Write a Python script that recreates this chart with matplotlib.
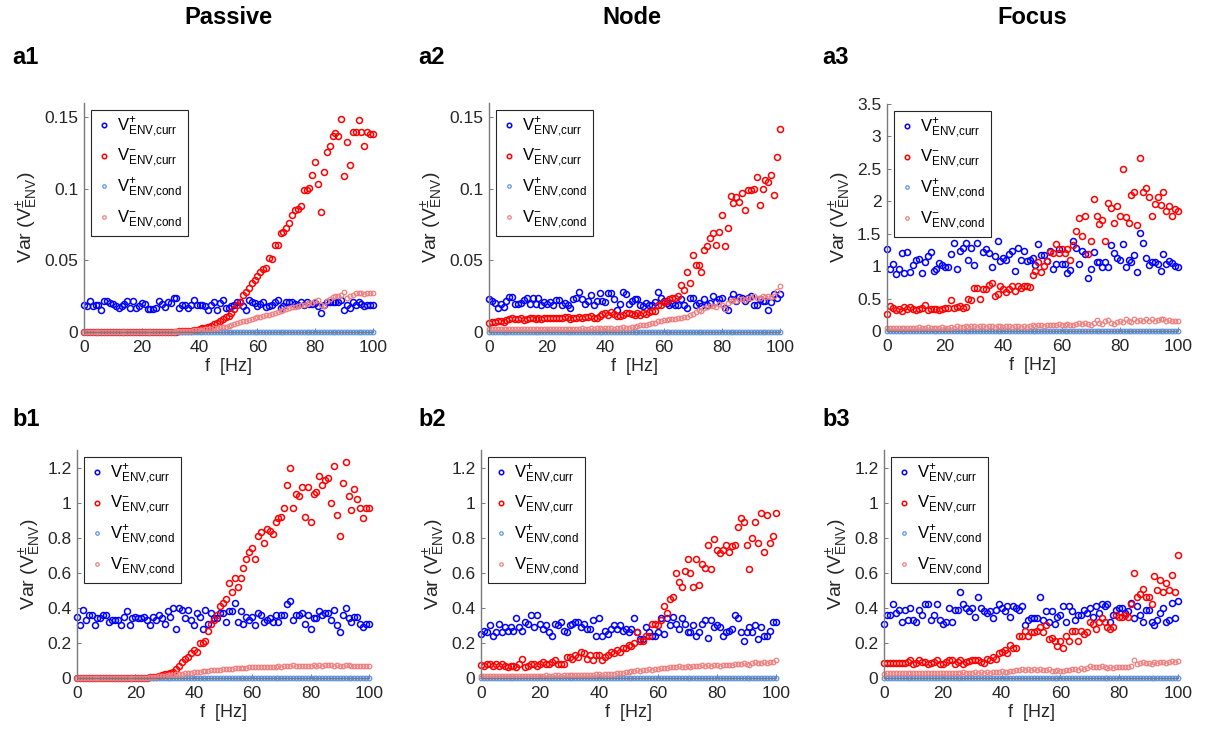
import matplotlib
matplotlib.use("Agg")
import matplotlib.pyplot as plt

plt.rcParams['font.family'] = ['Liberation Sans', 'DejaVu Sans']
plt.rcParams['mathtext.fontset'] = 'custom'
plt.rcParams['mathtext.rm'] = 'Liberation Sans'
plt.rcParams['mathtext.it'] = 'Liberation Sans:italic'
plt.rcParams['mathtext.bf'] = 'Liberation Sans:bold'

f_hz = list(range(101))

col_titles = ['Passive', 'Node', 'Focus']
panel_names = ['a1', 'a2', 'a3', 'b1', 'b2', 'b3']
legend_labels = [r'$\mathrm{V^{+}_{ENV{,}curr}}$', r'$\mathrm{V^{-}_{ENV{,}curr}}$',
                 r'$\mathrm{V^{+}_{ENV{,}cond}}$', r'$\mathrm{V^{-}_{ENV{,}cond}}$']
y_limits = [0.16, 0.16, 3.5, 1.3, 1.3, 1.3]
y_ticks = [[0, 0.05, 0.1, 0.15], [0, 0.05, 0.1, 0.15],
           [0, 0.5, 1, 1.5, 2, 2.5, 3, 3.5],
           [0, 0.2, 0.4, 0.6, 0.8, 1, 1.2], [0, 0.2, 0.4, 0.6, 0.8, 1, 1.2],
           [0, 0.2, 0.4, 0.6, 0.8, 1, 1.2]]
y_ticklabels = [['0', '0.05', '0.1', '0.15'], ['0', '0.05', '0.1', '0.15'],
                ['0', '0.5', '1', '1.5', '2', '2.5', '3', '3.5'],
                ['0', '0.2', '0.4', '0.6', '0.8', '1', '1.2'],
                ['0', '0.2', '0.4', '0.6', '0.8', '1', '1.2'],
                ['0', '0.2', '0.4', '0.6', '0.8', '1', '1.2']]

# conductance-based V+ stays at zero everywhere
cond_plus = [0, 0, 0, 0, 0, 0, 0, 0, 0, 0, 0, 0, 0, 0, 0, 0, 0, 0, 0, 0,
             0, 0, 0, 0, 0, 0, 0, 0, 0, 0, 0, 0, 0, 0, 0, 0, 0, 0, 0, 0,
             0, 0, 0, 0, 0, 0, 0, 0, 0, 0, 0, 0, 0, 0, 0, 0, 0, 0, 0, 0,
             0, 0, 0, 0, 0, 0, 0, 0, 0, 0, 0, 0, 0, 0, 0, 0, 0, 0, 0, 0,
             0, 0, 0, 0, 0, 0, 0, 0, 0, 0, 0, 0, 0, 0, 0, 0, 0, 0, 0, 0, 0]

# ---- a1 Passive ----
a1_curr_p = [.0186, .0180, .0220, .0180, .0190, .0190, .0156, .0214, .0217, .0200,
             .0198, .0180, .0165, .0184, .0193, .0214, .0168, .0220, .0165, .0180,
             .0200, .0198, .0163, .0160, .0160, .0165, .0219, .0198, .0175, .0207,
             .0203, .0235, .0235, .0168, .0189, .0189, .0170, .0189, .0221, .0189,
             .0189, .0189, .0182, .0156, .0189, .0207, .0156, .0203, .0221, .0165,
             .0170, .0180, .0189, .0207, .0212, .0184, .0151, .0226, .0212, .0203,
             .0184, .0198, .0212, .0175, .0180, .0189, .0212, .0226, .0170, .0180,
             .0212, .0207, .0207, .0198, .0189, .0207, .0189, .0212, .0193, .0198,
             .0203, .0180, .0133, .0189, .0207, .0207, .0207, .0207, .0207, .0226,
             .0156, .0189, .0165, .0212, .0189, .0212, .0198, .0180, .0189, .0189, .0189]
a1_curr_m = [0, 0, 0, 0, 0, 0, 0, 0, 0, 0,
             0, 0, 0, 0, 0, 0, 0, 0, 0, 0,
             0, 0, 0, 0, 0, 0, 0, 0, .0001, .0001,
             .0002, .0002, .0003, .0004, .0005, .0006, .0008, .0010, .0012, .0015,
             .0020, .0025, .0030, .0037, .0045, .0055, .0065, .0075, .0090, .0105,
             .0115, .0130, .0160, .0190, .0210, .0260, .0280, .0310, .0340, .0365,
             .0390, .0420, .0440, .0450, .0520, .0510, .0610, .0610, .0690, .0700,
             .0730, .0760, .0820, .0850, .0860, .0880, .0990, .0995, .1006, .1100,
             .1190, .1034, .0836, .1120, .1256, .1300, .1370, .1390, .1370, .1490,
             .1090, .1330, .1170, .1400, .1400, .1480, .1400, .1300, .1400, .1380, .1380]
a1_cond_m = [0, 0, 0, 0, 0, 0, 0, 0, 0, 0,
             0, 0, 0, 0, 0, 0, 0, 0, 0, 0,
             0, 0, 0, 0, 0, 0, 0, 0, 0, 0,
             .0002, .0003, .0004, .0005, .0006, .0007, .0008, .0010, .0011, .0013,
             .0015, .0017, .0019, .0021, .0024, .0026, .0029, .0032, .0035, .0038,
             .0042, .0048, .0055, .0062, .0068, .0074, .0080, .0086, .0092, .0098,
             .0104, .0108, .0112, .0116, .0122, .0128, .0133, .0138, .0145, .0152,
             .0160, .0166, .0172, .0178, .0185, .0190, .0192, .0196, .0200, .0206,
             .0214, .0226, .0190, .0180, .0215, .0232, .0245, .0255, .0250, .0262,
             .0280, .0240, .0255, .0262, .0270, .0275, .0273, .0265, .0270, .0275, .0270]

# ---- a2 Node ----
a2_curr_p = [.0228, .0216, .0204, .0169, .0197, .0174, .0216, .0244, .0244, .0197,
             .0197, .0204, .0221, .0235, .0197, .0235, .0197, .0235, .0192, .0211,
             .0197, .0211, .0192, .0221, .0223, .0192, .0204, .0192, .0169, .0228,
             .0239, .0279, .0228, .0197, .0216, .0256, .0188, .0216, .0270, .0216,
             .0211, .0275, .0275, .0228, .0157, .0197, .0282, .0268, .0197, .0216,
             .0232, .0232, .0192, .0181, .0204, .0188, .0188, .0211, .0279, .0239,
             .0216, .0204, .0192, .0204, .0192, .0188, .0228, .0192, .0169, .0235,
             .0235, .0188, .0204, .0181, .0232, .0192, .0204, .0251, .0209, .0228,
             .0235, .0169, .0157, .0228, .0263, .0216, .0244, .0239, .0216, .0235,
             .0251, .0188, .0192, .0228, .0216, .0216, .0157, .0211, .0263, .0240, .0263]
a2_curr_m = [.0063, .0070, .0068, .0080, .0075, .0072, .0085, .0090, .0095, .0092,
             .0092, .0095, .0085, .0090, .0100, .0098, .0093, .0095, .0090, .0098,
             .0096, .0100, .0098, .0095, .0100, .0098, .0108, .0102, .0092, .0100,
             .0098, .0105, .0100, .0108, .0102, .0110, .0098, .0100, .0115, .0125,
             .0130, .0122, .0140, .0125, .0115, .0115, .0120, .0132, .0130, .0125,
             .0118, .0130, .0120, .0135, .0128, .0140, .0145, .0150, .0190, .0192,
             .0210, .0220, .0228, .0235, .0240, .0252, .0330, .0295, .0420, .0340,
             .0540, .0465, .0470, .0420, .0570, .0600, .0660, .0690, .0610, .0700,
             .0820, .0600, .0730, .0950, .0900, .0940, .0910, .0970, .0850, .0990,
             .0995, .1000, .1080, .0890, .1000, .1060, .1050, .1100, .0960, .1220, .1420]
a2_cond_m = [.0020, .0022, .0018, .0021, .0020, .0022, .0019, .0023, .0021, .0020,
             .0022, .0020, .0019, .0023, .0021, .0022, .0020, .0019, .0022, .0021,
             .0020, .0023, .0022, .0021, .0023, .0020, .0024, .0022, .0021, .0023,
             .0024, .0022, .0025, .0023, .0024, .0026, .0023, .0025, .0027, .0024,
             .0026, .0025, .0028, .0024, .0027, .0030, .0032, .0029, .0031, .0034,
             .0038, .0042, .0046, .0050, .0052, .0058, .0062, .0066, .0075, .0078,
             .0082, .0085, .0088, .0090, .0094, .0100, .0098, .0105, .0108, .0118,
             .0128, .0140, .0155, .0150, .0165, .0172, .0180, .0185, .0175, .0195,
             .0190, .0160, .0205, .0215, .0225, .0218, .0230, .0228, .0225, .0235,
             .0240, .0250, .0235, .0238, .0250, .0245, .0250, .0248, .0252, .0285, .0320]

# ---- a3 Focus ----
a3_curr_p = [1.26, .95, 1.04, .88, .96, 1.21, .89, 1.22, .91, 1.02,
             1.10, 1.11, .89, 1.07, 1.16, 1.22, .92, .96, 1.05, 1.01,
             .98, .98, 1.18, 1.35, .95, 1.24, 1.28, 1.36, 1.09, 1.28,
             1.02, 1.36, 1.54, 1.22, 1.26, 1.21, .99, 1.15, 1.38, 1.08,
             1.12, 1.10, 1.19, 1.23, .92, 1.28, 1.10, 1.24, 1.08, 1.10,
             1.13, 1.02, 1.34, 1.17, 1.17, 1.08, 1.24, .96, 1.04, 1.26,
             1.03, 1.04, .90, .94, 1.39, 1.28, 1.03, 1.24, 1.18, .82,
             .96, 1.22, 1.06, 1.07, .99, 1.06, .99, 1.32, 1.20, 1.13,
             1.09, 1.34, .98, 1.09, 1.06, 1.17, .91, 1.51, 1.35, 1.13,
             1.02, 1.07, 1.06, 1.03, .92, 1.18, 1.03, 1.08, 1.05, 1.00, .98]
a3_curr_m = [.26, .38, .36, .33, .34, .31, .37, .34, .37, .34,
             .33, .34, .35, .40, .33, .34, .34, .34, .33, .34,
             .35, .36, .48, .36, .37, .38, .35, .37, .50, .48,
             .66, .66, .50, .64, .64, .71, .74, .54, .57, .69,
             .64, .60, .64, .69, .61, .69, .67, .69, .70, .68,
             .87, .92, 1.07, .91, 1.00, 1.08, 1.22, 1.21, 1.34, 1.21,
             1.27, 1.21, 1.27, 1.10, 1.32, 1.54, 1.74, 1.46, 1.78, 1.18,
             1.39, 2.03, 1.78, 1.65, 1.71, 1.38, 1.97, 1.89, 1.67, 1.92,
             1.78, 2.50, 1.76, 1.67, 2.09, 2.14, 1.64, 2.67, 2.15, 2.20,
             2.06, 1.78, 1.96, 2.07, 1.95, 2.15, 1.85, 1.93, 1.78, 1.88, 1.85]
a3_cond_m = [.04, .05, .04, .05, .04, .05, .04, .04, .05, .04,
             .05, .06, .05, .05, .06, .05, .04, .05, .05, .06,
             .05, .05, .06, .05, .07, .06, .06, .07, .06, .07,
             .07, .06, .07, .07, .06, .08, .07, .06, .07, .07,
             .06, .07, .07, .06, .07, .07, .06, .07, .06, .07,
             .09, .08, .09, .09, .08, .10, .09, .10, .10, .11,
             .09, .10, .11, .09, .10, .11, .12, .11, .12, .11,
             .10, .12, .17, .13, .11, .15, .17, .13, .11, .14,
             .15, .14, .19, .16, .14, .18, .15, .17, .16, .19,
             .16, .18, .15, .17, .19, .18, .16, .17, .16, .15, .16]

# ---- b1 Passive ----
b1_curr_p = [.35, .30, .39, .33, .36, .36, .30, .34, .34, .36,
             .36, .32, .33, .33, .33, .30, .35, .38, .30, .34,
             .35, .34, .34, .35, .33, .30, .35, .33, .36, .34,
             .31, .38, .35, .40, .28, .40, .39, .34, .39, .33,
             .30, .37, .35, .28, .39, .31, .37, .34, .34, .37,
             .37, .32, .38, .38, .43, .32, .38, .31, .35, .33,
             .35, .30, .37, .36, .32, .33, .34, .32, .36, .32,
             .36, .36, .42, .44, .33, .36, .36, .37, .31, .36,
             .28, .34, .34, .38, .36, .37, .37, .33, .39, .30,
             .26, .36, .40, .34, .32, .35, .35, .31, .29, .31, .31]
b1_curr_m = [0, 0, 0, 0, 0, 0, 0, 0, 0, 0,
             0, 0, 0, 0, 0, 0, 0, 0, 0, 0,
             0, 0, .001, .001, .002, .003, .005, .007, .010, .015,
             .020, .025, .030, .035, .050, .070, .090, .110, .120, .140,
             .160, .150, .200, .200, .210, .270, .310, .330, .360, .410,
             .430, .450, .540, .490, .570, .520, .570, .630, .680, .720,
             .740, .680, .810, .830, .770, .850, .840, .820, .890, .910,
             .920, .970, 1.10, 1.20, .970, 1.05, 1.04, 1.09, .920, 1.09,
             .890, 1.05, 1.06, 1.15, 1.10, 1.13, 1.14, 1.00, 1.21, .930,
             .810, 1.11, 1.23, 1.04, .960, 1.08, 1.02, .970, .910, .970, .970]
b1_cond_m = [0, 0, 0, 0, 0, 0, 0, 0, 0, 0,
             0, 0, 0, 0, 0, 0, 0, 0, 0, 0,
             0, 0, 0, .001, .002, .003, .005, .007, .009, .011,
             .013, .015, .017, .019, .021, .023, .025, .027, .029, .031,
             .033, .035, .037, .039, .040, .042, .044, .045, .047, .048,
             .050, .051, .053, .054, .055, .056, .056, .058, .059, .060,
             .061, .060, .062, .063, .061, .064, .063, .065, .062, .066,
             .065, .067, .068, .070, .072, .068, .070, .071, .069, .071,
             .068, .072, .070, .073, .071, .074, .073, .072, .070, .072,
             .068, .066, .073, .075, .070, .068, .071, .069, .070, .068, .070]

# ---- b2 Node ----
b2_curr_p = [.25, .27, .26, .30, .24, .26, .31, .26, .29, .27,
             .29, .27, .34, .29, .27, .32, .31, .36, .29, .36,
             .31, .28, .30, .26, .24, .31, .30, .32, .27, .26,
             .30, .31, .32, .32, .29, .31, .28, .28, .33, .24,
             .34, .24, .27, .25, .28, .30, .28, .30, .27, .28,
             .26, .28, .34, .26, .22, .22, .29, .26, .24, .24,
             .26, .34, .25, .34, .30, .35, .31, .28, .34, .31,
             .26, .26, .30, .24, .26, .31, .33, .23, .33, .29,
             .30, .29, .24, .26, .27, .28, .36, .34, .26, .21,
             .26, .29, .26, .30, .22, .29, .24, .24, .27, .32, .32]
b2_curr_m = [.075, .070, .080, .080, .070, .080, .070, .080, .070, .060,
             .070, .070, .060, .080, .110, .060, .070, .080, .080, .070,
             .080, .090, .080, .080, .090, .100, .080, .080, .080, .120,
             .120, .110, .130, .120, .150, .140, .110, .130, .100, .130,
             .130, .100, .120, .130, .150, .140, .160, .150, .170, .170,
             .190, .180, .200, .260, .210, .210, .240, .240, .310, .310,
             .300, .330, .410, .370, .450, .460, .600, .550, .520, .610,
             .680, .600, .520, .680, .530, .650, .630, .760, .620, .790,
             .730, .710, .730, .760, .720, .750, .760, .860, .910, .890,
             .760, .620, .800, .890, .770, .940, .720, .930, .770, .810, .940]
b2_cond_m = [.010, .012, .011, .012, .010, .011, .012, .011, .010, .012,
             .012, .011, .013, .012, .011, .013, .012, .014, .012, .013,
             .014, .013, .015, .014, .013, .015, .016, .014, .015, .016,
             .016, .017, .015, .018, .017, .016, .018, .019, .017, .020,
             .020, .019, .021, .022, .024, .025, .027, .028, .030, .032,
             .035, .038, .040, .045, .042, .047, .045, .050, .048, .052,
             .050, .055, .058, .056, .060, .062, .064, .066, .062, .065,
             .068, .064, .070, .066, .068, .072, .070, .073, .069, .072,
             .074, .071, .075, .073, .076, .074, .078, .082, .080, .084,
             .078, .072, .086, .090, .084, .088, .092, .086, .090, .094, .100]

# ---- b3 Focus ----
b3_curr_p = [.31, .36, .36, .42, .37, .39, .32, .39, .33, .40,
             .33, .32, .39, .36, .42, .42, .33, .36, .42, .33,
             .31, .32, .40, .32, .39, .39, .49, .42, .40, .38,
             .40, .35, .46, .40, .38, .37, .38, .34, .39, .42,
             .40, .38, .41, .35, .41, .40, .39, .41, .30, .33,
             .34, .34, .34, .46, .33, .38, .32, .38, .31, .35,
             .36, .41, .32, .41, .38, .33, .36, .36, .39, .37,
             .40, .35, .41, .37, .42, .41, .42, .32, .36, .39,
             .40, .40, .37, .38, .43, .34, .41, .36, .32, .39,
             .39, .32, .30, .33, .37, .40, .32, .33, .43, .34, .44]
b3_curr_m = [.085, .085, .083, .085, .085, .087, .088, .085, .090, .100,
             .080, .085, .100, .090, .090, .080, .085, .090, .100, .080,
             .080, .090, .100, .100, .080, .090, .100, .080, .090, .095,
             .100, .100, .100, .090, .085, .110, .100, .120, .110, .140,
             .150, .160, .140, .190, .170, .170, .240, .240, .270, .240,
             .260, .260, .270, .290, .260, .300, .220, .230, .210, .180,
             .210, .170, .240, .210, .270, .270, .210, .270, .250, .260,
             .320, .310, .280, .320, .340, .320, .290, .280, .290, .360,
             .350, .350, .360, .350, .420, .600, .460, .480, .510, .460,
             .460, .420, .580, .500, .560, .490, .540, .500, .590, .490, .700]
b3_cond_m = [.025, .030, .028, .030, .027, .030, .028, .030, .026, .030,
             .028, .027, .030, .028, .030, .026, .029, .028, .030, .027,
             .026, .028, .030, .027, .030, .026, .030, .032, .028, .030,
             .030, .032, .028, .033, .030, .035, .030, .034, .036, .035,
             .038, .034, .037, .040, .042, .045, .048, .050, .046, .050,
             .048, .050, .047, .050, .048, .045, .050, .042, .040, .045,
             .040, .042, .048, .045, .050, .052, .048, .055, .050, .058,
             .070, .065, .060, .065, .070, .060, .055, .060, .058, .060,
             .062, .060, .065, .062, .070, .100, .080, .085, .090, .088,
             .085, .080, .090, .085, .090, .092, .088, .090, .095, .090, .095]

panel_data = [(a1_curr_p, a1_curr_m, cond_plus, a1_cond_m),
              (a2_curr_p, a2_curr_m, cond_plus, a2_cond_m),
              (a3_curr_p, a3_curr_m, cond_plus, a3_cond_m),
              (b1_curr_p, b1_curr_m, cond_plus, b1_cond_m),
              (b2_curr_p, b2_curr_m, cond_plus, b2_cond_m),
              (b3_curr_p, b3_curr_m, cond_plus, b3_cond_m)]

W, H = 1206, 730
# axes boxes in pixels: left, top, right, bottom
boxes = [(84, 103, 373, 332), (489, 103, 780, 332), (887, 104, 1178, 331),
         (77, 450, 369, 678), (481, 450, 776, 678), (884, 450, 1178, 678)]
label_pos = [(12, 58), (418, 58), (822, 58), (12, 420), (418, 420), (822, 420)]
title_x = [228, 632, 1032]

colors = ['#0000ff', '#ff0000', '#5b95e8', '#f08080']
msizes = [4.3, 4.3, 3.3, 3.3]
mews = [1.1, 1.1, 0.9, 0.9]

fig = plt.figure(figsize=(W / 100, H / 100), dpi=100)

for i in range(6):
    l, t, r, b = boxes[i]
    ax = fig.add_axes([l / W, 1 - b / H, (r - l) / W, (b - t) / H])
    for k in range(4):
        ax.plot(f_hz, panel_data[i][k], 'o', ls='none', mfc='none', mec=colors[k],
                ms=msizes[k], mew=mews[k], label=legend_labels[k], clip_on=False)
    ax.set_xlim(0, 100)
    ax.set_ylim(0, y_limits[i])
    ax.set_xticks([0, 20, 40, 60, 80, 100])
    ax.set_yticks(y_ticks[i])
    ax.set_yticklabels(y_ticklabels[i])
    for s in ['top', 'right']:
        ax.spines[s].set_visible(False)
    for s in ['left', 'bottom']:
        ax.spines[s].set_color('#7a7a7a')
        ax.spines[s].set_linewidth(1.0)
    ax.tick_params(direction='in', length=3, width=0.7, colors='#7a7a7a',
                   labelcolor='#262626', labelsize=12.5)
    ax.tick_params(axis='x', pad=6)
    ax.tick_params(axis='y', pad=4)
    ax.set_xlabel('f  [Hz]', fontsize=13, color='#262626', labelpad=2)
    ax.set_ylabel(r'Var (V$^{\pm}_{\mathrm{ENV}}$)', fontsize=14, color='#262626',
                  labelpad=3)
    leg = ax.legend(loc='upper left', bbox_to_anchor=(0.025, 0.97), fontsize=12,
                    frameon=True, fancybox=False, edgecolor='#262626', framealpha=1,
                    handletextpad=0.4, labelspacing=0.45, borderpad=0.35,
                    handlelength=0.8, borderaxespad=0.0, markerscale=0.75)
    leg.get_frame().set_linewidth(0.8)
    fig.text(label_pos[i][0] / W, 1 - label_pos[i][1] / H, panel_names[i],
             fontsize=17, fontweight='bold', va='center', ha='left')

for j in range(3):
    fig.text(title_x[j] / W, 1 - 18 / H, col_titles[j], fontsize=17,
             fontweight='bold', ha='center', va='center')

fig.savefig('out.png', dpi=100)
